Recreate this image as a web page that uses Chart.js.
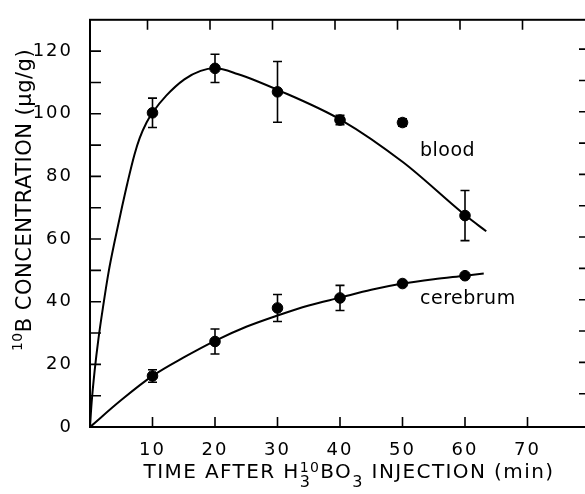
<!DOCTYPE html>
<html>
<head>
<meta charset="utf-8">
<script src="https://cdn.jsdelivr.net/npm/chart.js@4.4.1/dist/chart.umd.min.js"></script>
<style>
html, body { margin: 0; padding: 0; background: #fff; overflow: hidden; }
canvas { display: block; }
</style>
</head>
<body>
<canvas id="myChart" width="600" height="494"></canvas>
<script>
// measured points (mean +/- error)
const times = [10, 20, 30, 40, 50, 60];
const bloodMean = [100.3, 114.5, 107, 98, 97.2, 67.5];
const bloodErr = [4.7, 4.5, 9.7, 1.5, 1.2, 8];
const cerebrumMean = [16.3, 27.3, 38, 41.2, 45.8, 48.3];
const cerebrumErr = [2, 4, 4.3, 4, 0, 0];

// fitted curves
const bloodCurveT = [0, 0.25, 0.74, 1.36, 2.13, 2.96, 3.99, 5.13, 6.0, 7.12, 7.96, 9.07, 10.05, 12.2, 15.1, 17.7, 20, 23.6, 30.3, 40.2, 50.1, 60.1, 63.4];
const bloodCurveY = [0, 7.5, 17.9, 28.3, 38.9, 49.3, 59.7, 70.3, 78, 87, 92.3, 97.3, 100.5, 105.8, 111, 113.7, 114.5, 112.7, 107.4, 98, 84.5, 67.5, 62.5];
const cerebrumCurveT = [0, 5, 10, 15, 20, 25, 30, 35, 40, 45, 50, 55, 60, 63];
const cerebrumCurveY = [0, 8.6, 16.3, 22.2, 27.5, 32, 35.6, 38.8, 41.3, 43.8, 45.8, 47.2, 48.3, 49];

// tick labels
const xTickLabels = [10, 20, 30, 40, 50, 60, 70];
const yTickLabels = [0, 20, 40, 60, 80, 100, 120];

const FONT = '"DejaVu Sans", sans-serif';

function toXY(xs, ys) {
    return xs.map((x, i) => ({ x: x, y: ys[i] }));
}

// wide lettering for the tick numbers
const wideTicks = {
    id: 'wideTicks',
    beforeDraw(chart) {
        chart.ctx.letterSpacing = '2px';
    }
};

// vertical error bars with caps
const errorBars = {
    id: 'errorBars',
    afterDatasetsDraw(chart) {
        const ctx = chart.ctx;
        const xs = chart.scales.x;
        const ys = chart.scales.y;
        const sets = [[bloodMean, bloodErr], [cerebrumMean, cerebrumErr]];
        ctx.save();
        ctx.strokeStyle = '#000';
        ctx.lineWidth = 1.6;
        for (let [means, errs] of sets) {
            times.forEach((t, i) => {
                if (!errs[i]) return;
                const px = xs.getPixelForValue(t);
                const top = ys.getPixelForValue(means[i] + errs[i]);
                const bot = ys.getPixelForValue(means[i] - errs[i]);
                ctx.beginPath();
                ctx.moveTo(px, top); ctx.lineTo(px, bot);
                ctx.moveTo(px - 4.5, top); ctx.lineTo(px + 4.5, top);
                ctx.moveTo(px - 4.5, bot); ctx.lineTo(px + 4.5, bot);
                ctx.stroke();
            });
        }
        ctx.restore();
    }
};

// draw text made of parts (sub/superscripts), centered on x
function richText(ctx, parts, cx, y, spacing) {
    ctx.letterSpacing = spacing + 'px';
    let widths = parts.map(p => {
        ctx.font = p.s + 'px ' + FONT;
        let w = ctx.measureText(p.t).width;
        if (p.sub) {
            ctx.font = p.subS + 'px ' + FONT;
            w = Math.max(w, ctx.measureText(p.sub).width);
        }
        return w;
    });
    const total = widths.reduce((a, b) => a + b, 0);
    let x = cx - total / 2;
    ctx.textAlign = 'left';
    ctx.textBaseline = 'alphabetic';
    parts.forEach((p, i) => {
        ctx.font = p.s + 'px ' + FONT;
        ctx.fillText(p.t, x, y + (p.dy || 0));
        if (p.sub) {
            ctx.font = p.subS + 'px ' + FONT;
            ctx.fillText(p.sub, x, y + p.subDy);
        }
        x += widths[i];
    });
}

// frame, inward ticks, titles and curve labels
const decorations = {
    id: 'decorations',
    afterDraw(chart) {
        const ctx = chart.ctx;
        const a = chart.chartArea;
        const xs = chart.scales.x;
        const ys = chart.scales.y;
        ctx.save();
        ctx.strokeStyle = '#000';
        ctx.fillStyle = '#000';
        ctx.lineWidth = 2;
        ctx.strokeRect(a.left, a.top, a.right - a.left, a.bottom - a.top);

        ctx.lineWidth = 1.6;
        ctx.beginPath();
        for (let v = 10; v <= 70; v += 10) {
            const px = xs.getPixelForValue(v);
            ctx.moveTo(px, a.bottom); ctx.lineTo(px, a.bottom - 10);
            ctx.moveTo(px - 5, a.top); ctx.lineTo(px - 5, a.top + 10);
        }
        for (let v = 10; v <= 120; v += 10) {
            const py = ys.getPixelForValue(v);
            ctx.moveTo(a.left, py); ctx.lineTo(a.left + 11, py);
            ctx.moveTo(a.right, py - 2); ctx.lineTo(a.right - 11, py - 2);
        }
        ctx.stroke();

        // axis titles
        richText(ctx, [
            { t: 'TIME AFTER H', s: 20 },
            { t: '10', s: 14, dy: -6, sub: '3', subS: 16, subDy: 9 },
            { t: 'BO', s: 20 },
            { t: '3', s: 16, dy: 9 },
            { t: ' INJECTION (min)', s: 20 }
        ], 349, 478, 1.4);

        ctx.translate(31, 200);
        ctx.rotate(-Math.PI / 2);
        richText(ctx, [
            { t: '10', s: 14, dy: -9 },
            { t: 'B CONCENTRATION (\u00b5g/g)', s: 21 }
        ], 0, 0, 0.5);
        ctx.setTransform(1, 0, 0, 1, 0, 0);

        // curve labels
        ctx.letterSpacing = '0.5px';
        ctx.font = '19px ' + FONT;
        ctx.textAlign = 'left';
        ctx.fillText('blood', xs.getPixelForValue(52.8), ys.getPixelForValue(86.5));
        ctx.fillText('cerebrum', xs.getPixelForValue(52.8), ys.getPixelForValue(39.3));
        ctx.restore();
        ctx.letterSpacing = '0px';
    }
};

const ctx = document.getElementById('myChart').getContext('2d');

const myChart = new Chart(ctx, {
    type: 'scatter',
    data: {
        datasets: [
            {
                label: 'blood fit',
                data: toXY(bloodCurveT, bloodCurveY),
                showLine: true,
                borderColor: '#000',
                borderWidth: 2,
                pointRadius: 0,
                cubicInterpolationMode: 'monotone'
            },
            {
                label: 'cerebrum fit',
                data: toXY(cerebrumCurveT, cerebrumCurveY),
                showLine: true,
                borderColor: '#000',
                borderWidth: 2,
                pointRadius: 0,
                cubicInterpolationMode: 'monotone'
            },
            {
                label: 'blood',
                data: toXY(times, bloodMean),
                pointRadius: 5.3,
                backgroundColor: '#000',
                borderColor: '#000'
            },
            {
                label: 'cerebrum',
                data: toXY(times, cerebrumMean),
                pointRadius: 5.3,
                backgroundColor: '#000',
                borderColor: '#000'
            }
        ]
    },
    options: {
        responsive: false,
        animation: false,
        layout: { padding: { top: 13, right: 10, left: 0, bottom: 0 } },
        plugins: {
            legend: { display: false },
            tooltip: { enabled: false }
        },
        scales: {
            x: {
                type: 'linear',
                min: 0,
                max: 80,
                afterFit: s => { s.height = 67; },
                grid: { display: false },
                border: { display: false },
                ticks: {
                    stepSize: 10,
                    autoSkip: false,
                    maxRotation: 0,
                    padding: 5,
                    color: '#000',
                    font: { family: 'DejaVu Sans', size: 18 },
                    callback: v => xTickLabels.includes(v) ? String(v) : ''
                }
            },
            y: {
                min: 0,
                max: 130,
                afterFit: s => { s.width = 90; },
                grid: { display: false },
                border: { display: false },
                ticks: {
                    stepSize: 10,
                    autoSkip: false,
                    padding: 9,
                    color: '#000',
                    font: { family: 'DejaVu Sans', size: 18 },
                    callback: v => yTickLabels.includes(v) ? String(v) : ''
                }
            }
        }
    },
    plugins: [wideTicks, errorBars, decorations]
});
</script>
</body>
</html>
